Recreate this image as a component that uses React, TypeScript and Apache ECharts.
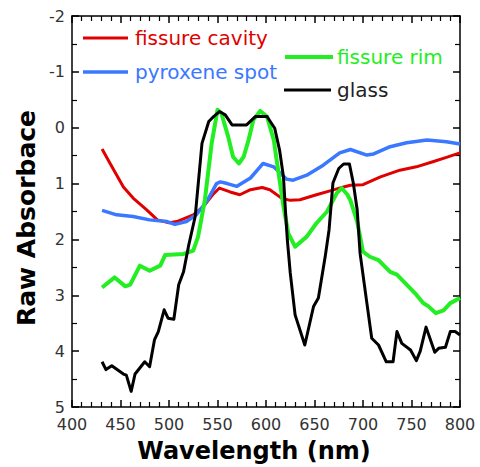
import React, { useEffect, useRef } from "react";
import * as echarts from "echarts";

const seriesNames = ["fissure cavity", "pyroxene spot", "fissure rim", "glass"];
const seriesColors = ["#e00000", "#3a78ff", "#22ee22", "#000000"];

const cavityWl = [431, 439, 453, 463, 477, 488, 500, 508, 525, 535, 545, 552, 563, 573, 584, 596, 604, 616, 625, 635, 652, 666, 680, 687, 700, 718, 738, 755, 772, 786, 800];
const cavityVal = [0.38, 0.63, 1.06, 1.26, 1.47, 1.65, 1.7, 1.68, 1.56, 1.42, 1.2, 1.08, 1.15, 1.2, 1.11, 1.07, 1.11, 1.26, 1.3, 1.29, 1.2, 1.13, 1.06, 1.03, 1.02, 0.88, 0.76, 0.7, 0.61, 0.53, 0.45];

const pyroxWl = [431, 446, 463, 480, 498, 506, 518, 528, 539, 549, 553, 560, 570, 584, 597, 608, 621, 628, 642, 659, 676, 687, 704, 711, 728, 745, 766, 786, 800];
const pyroxVal = [1.48, 1.56, 1.59, 1.65, 1.68, 1.73, 1.68, 1.56, 1.32, 1.0, 0.97, 1.0, 1.05, 0.9, 0.64, 0.7, 0.92, 0.94, 0.85, 0.67, 0.45, 0.39, 0.49, 0.47, 0.34, 0.27, 0.22, 0.25, 0.29];

const rimWl = [431, 444, 455, 460, 470, 480, 491, 496, 515, 525, 530, 537, 544, 550, 554, 561, 566, 572, 577, 582, 587, 594, 601, 608, 613, 618, 623, 630, 642, 652, 663, 673, 678, 684, 687, 694, 700, 707, 716, 728, 735, 745, 755, 762, 767, 775, 783, 790, 800];
const rimVal = [2.86, 2.68, 2.84, 2.81, 2.47, 2.56, 2.47, 2.28, 2.26, 2.2, 1.95, 1.29, 0.28, -0.32, -0.26, 0.16, 0.52, 0.64, 0.52, 0.22, -0.14, -0.3, -0.2, 0.22, 0.82, 1.41, 1.89, 2.13, 1.95, 1.71, 1.5, 1.17, 1.08, 1.2, 1.3, 1.68, 2.22, 2.31, 2.37, 2.58, 2.63, 2.81, 2.99, 3.14, 3.19, 3.32, 3.27, 3.14, 3.05];

const glassWl = [431, 435, 441, 453, 456, 461, 465, 475, 480, 485, 489, 495, 499, 505, 510, 515, 520, 527, 534, 541, 546, 552, 558, 565, 580, 589, 601, 609, 614, 618, 620, 622, 625, 630, 640, 649, 654, 661, 665, 669, 675, 680, 686, 690, 694, 697, 704, 709, 716, 724, 731, 735, 740, 749, 755, 759, 765, 774, 778, 785, 790, 795, 800];
const glassVal = [4.19, 4.33, 4.26, 4.41, 4.43, 4.72, 4.41, 4.19, 4.28, 3.8, 3.65, 3.26, 3.41, 3.43, 2.81, 2.58, 2.13, 1.59, 0.28, -0.11, -0.2, -0.29, -0.23, -0.05, -0.05, -0.2, -0.2, 0.01, 0.4, 0.88, 1.47, 2.01, 2.6, 3.35, 3.89, 3.2, 3.05, 2.31, 1.83, 0.99, 0.73, 0.65, 0.65, 0.99, 1.47, 2.25, 3.14, 3.77, 3.89, 4.19, 4.19, 3.65, 3.86, 3.98, 4.17, 4.0, 3.57, 4.02, 3.95, 3.93, 3.65, 3.65, 3.71];

const xTitle = "Wavelength (nm)";
const yTitle = "Raw Absorbace";

const allWl = [cavityWl, pyroxWl, rimWl, glassWl];
const allVal = [cavityVal, pyroxVal, rimVal, glassVal];
const lineWidths = [3, 3.5, 4, 3];

export default function App() {
  const ref = useRef<HTMLDivElement>(null);
  useEffect(() => {
    if (!ref.current) return;
    const chart = echarts.init(ref.current, null, { renderer: "svg" });
    const font = "DejaVu Sans";
    const axisCommon = (show: boolean, minorSplit: number, margin: number) => ({
      axisLine: { show: true, onZero: false, lineStyle: { color: "#000", width: 1.5 } },
      axisTick: { show: true, inside: true, length: 7, lineStyle: { color: "#000", width: 1.5 } },
      minorTick: { show: true, splitNumber: minorSplit, length: 5, lineStyle: { color: "#000", width: 1.2 } },
      splitLine: { show: false },
      minorSplitLine: { show: false },
      axisLabel: { show, color: "#333", fontSize: 16, fontFamily: font, margin },
    });
    const legendItems: any[] = [];
    const legendPos = [
      [83, 38, 128, 135],
      [83, 72, 128, 135],
      [285, 57, 333, 337],
      [284, 90, 331, 337],
    ];
    seriesNames.forEach((n, i) => {
      const [x1, y, x2, tx] = legendPos[i];
      legendItems.push({
        type: "line",
        shape: { x1, y1: y, x2, y2: y },
        style: { stroke: seriesColors[i], lineWidth: lineWidths[i] },
      });
      legendItems.push({
        type: "text",
        x: tx,
        y,
        style: {
          text: n,
          fill: i === 3 ? "#222" : seriesColors[i],
          font: `20px "${font}"`,
          textVerticalAlign: "middle",
          textAlign: "left",
        },
      });
    });
    chart.setOption({
      animation: false,
      grid: { left: 72, right: 20, top: 16, bottom: 60 },
      xAxis: [
        { type: "value", position: "bottom", min: 400, max: 800, interval: 50, ...axisCommon(true, 5, 9) },
        { type: "value", position: "top", min: 400, max: 800, interval: 50, ...axisCommon(false, 5, 9) },
      ],
      yAxis: [
        { type: "value", position: "left", inverse: true, min: -2, max: 5, interval: 1, ...axisCommon(true, 2, 7) },
        { type: "value", position: "right", inverse: true, min: -2, max: 5, interval: 1, ...axisCommon(false, 2, 7) },
      ],
      series: seriesNames.map((n, i) => ({
        name: n,
        type: "line",
        xAxisIndex: 0,
        yAxisIndex: 0,
        symbol: "none",
        data: allWl[i].map((w, j) => [w, allVal[i][j]]),
        lineStyle: { color: seriesColors[i], width: lineWidths[i], join: "round" },
        z: [2, 2, 3, 4][i],
      })),
      graphic: [
        ...legendItems,
        {
          type: "text",
          x: 254,
          y: 451,
          style: { text: xTitle, font: `bold 24px "${font}"`, fill: "#000", textAlign: "center", textVerticalAlign: "middle" },
        },
        {
          type: "text",
          x: 26,
          y: 218,
          rotation: Math.PI / 2,
          style: { text: yTitle, font: `bold 25px "${font}"`, fill: "#000", textAlign: "center", textVerticalAlign: "middle" },
        },
      ],
    });
    return () => chart.dispose();
  }, []);
  return <div ref={ref} style={{ width: 480, height: 467, position: "absolute", left: 0, top: 0 }} />;
}
